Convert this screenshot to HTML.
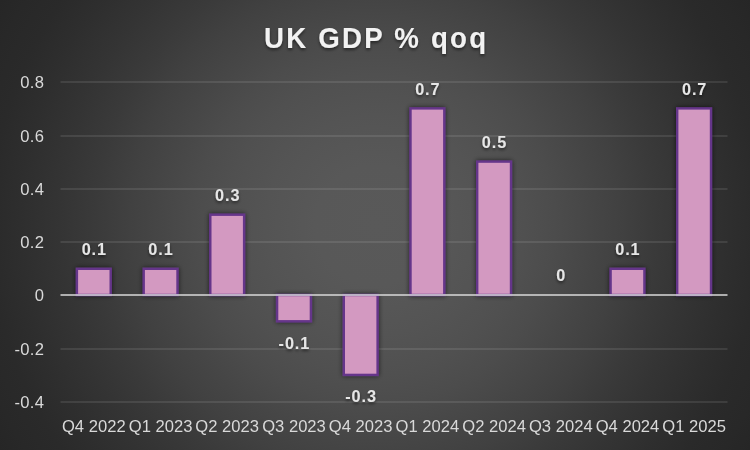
<!DOCTYPE html>
<html lang="en">
<head>
<meta charset="utf-8">
<title>UK GDP % qoq</title>
<style>
  html, body { margin: 0; padding: 0; background: #262626; }
  body { width: 750px; height: 450px; overflow: hidden; }
  svg { display: block; }
  .ax { font-family: "Liberation Sans", sans-serif; font-size: 16.6px; fill: #d9d9d9; }
  .dl { font-family: "Liberation Sans", sans-serif; font-size: 16.3px; font-weight: bold; fill: #e6e6e6; letter-spacing: 0.9px; }
  .title { font-family: "Liberation Sans", sans-serif; font-size: 29px; font-weight: bold; fill: #f2f2f2; letter-spacing: 2.3px; }
</style>
</head>
<body>
<svg width="750" height="450" viewBox="0 0 750 450">
  <defs>
    <radialGradient id="bg" gradientUnits="userSpaceOnUse" cx="375" cy="225" r="437.3">
      <stop offset="0.0000" stop-color="rgb(89,89,89)"/>
      <stop offset="0.1372" stop-color="rgb(88,88,88)"/>
      <stop offset="0.2515" stop-color="rgb(84,84,84)"/>
      <stop offset="0.3430" stop-color="rgb(80,80,80)"/>
      <stop offset="0.4116" stop-color="rgb(76,76,76)"/>
      <stop offset="0.4917" stop-color="rgb(70,70,70)"/>
      <stop offset="0.5603" stop-color="rgb(65,65,65)"/>
      <stop offset="0.6403" stop-color="rgb(58,58,58)"/>
      <stop offset="0.7203" stop-color="rgb(52,52,52)"/>
      <stop offset="0.8118" stop-color="rgb(46,46,46)"/>
      <stop offset="0.8804" stop-color="rgb(42,42,42)"/>
      <stop offset="0.9490" stop-color="rgb(40,40,40)"/>
      <stop offset="1.0000" stop-color="rgb(38,38,38)"/>
    </radialGradient>
    <filter id="sh" x="-40%" y="-40%" width="180%" height="180%">
      <feGaussianBlur in="SourceAlpha" stdDeviation="2.5"/>
      <feOffset dx="0" dy="0" result="b"/>
      <feComponentTransfer><feFuncA type="linear" slope="0.63"/></feComponentTransfer>
      <feMerge><feMergeNode/><feMergeNode in="SourceGraphic"/></feMerge>
    </filter>
    <filter id="tsh" x="-10%" y="-30%" width="120%" height="170%">
      <feGaussianBlur in="SourceAlpha" stdDeviation="1.5"/>
      <feOffset dx="0" dy="1.5"/>
      <feComponentTransfer><feFuncA type="linear" slope="0.5"/></feComponentTransfer>
      <feMerge><feMergeNode/><feMergeNode in="SourceGraphic"/></feMerge>
    </filter>
  </defs>
  <rect x="0" y="0" width="750" height="450" fill="url(#bg)"/>
  <g stroke="#ffffff" stroke-opacity="0.125" stroke-width="1.7">
    <line x1="60.5" y1="82.0" x2="727.5" y2="82.0"/>
    <line x1="60.5" y1="136.0" x2="727.5" y2="136.0"/>
    <line x1="60.5" y1="189.0" x2="727.5" y2="189.0"/>
    <line x1="60.5" y1="242.0" x2="727.5" y2="242.0"/>
    <line x1="60.5" y1="349.0" x2="727.5" y2="349.0"/>
    <line x1="60.5" y1="402.0" x2="727.5" y2="402.0"/>
  </g>
  <g fill="#d399c1" stroke="#65358a" stroke-width="2.4" filter="url(#sh)">
    <rect x="76.9" y="268.8" width="33.8" height="26.2"/>
    <rect x="143.7" y="268.8" width="33.8" height="26.2"/>
    <rect x="210.3" y="214.7" width="33.8" height="80.3"/>
    <rect x="277.1" y="295.0" width="33.8" height="26.3"/>
    <rect x="343.8" y="295.0" width="33.8" height="79.9"/>
    <rect x="410.5" y="108.4" width="33.8" height="186.6"/>
    <rect x="477.2" y="161.6" width="33.8" height="133.4"/>
    <rect x="610.6" y="268.8" width="33.8" height="26.2"/>
    <rect x="677.2" y="108.4" width="33.8" height="186.6"/>
  </g>
  <line x1="60.5" y1="295.0" x2="727.5" y2="295.0" stroke="#d9d9d9" stroke-opacity="0.75" stroke-width="2"/>
  <g class="ax" text-anchor="end" letter-spacing="0.3">
    <text x="44.3" y="87.8">0.8</text>
    <text x="44.3" y="141.8">0.6</text>
    <text x="44.3" y="194.8">0.4</text>
    <text x="44.3" y="247.8">0.2</text>
    <text x="44.3" y="300.8">0</text>
    <text x="44.3" y="354.8">-0.2</text>
    <text x="44.3" y="407.8">-0.4</text>
  </g>
  <g class="ax" text-anchor="middle">
    <text x="93.8" y="431.6">Q4 2022</text>
    <text x="160.6" y="431.6">Q1 2023</text>
    <text x="227.2" y="431.6">Q2 2023</text>
    <text x="294.0" y="431.6">Q3 2023</text>
    <text x="360.7" y="431.6">Q4 2023</text>
    <text x="427.4" y="431.6">Q1 2024</text>
    <text x="494.1" y="431.6">Q2 2024</text>
    <text x="560.8" y="431.6">Q3 2024</text>
    <text x="627.5" y="431.6">Q4 2024</text>
    <text x="694.1" y="431.6">Q1 2025</text>
  </g>
  <g class="dl" text-anchor="middle" filter="url(#tsh)">
    <text x="94.3" y="254.5">0.1</text>
    <text x="161.0" y="254.5">0.1</text>
    <text x="227.7" y="201.1">0.3</text>
    <text x="294.4" y="349.1">-0.1</text>
    <text x="361.1" y="402.4">-0.3</text>
    <text x="427.8" y="94.5">0.7</text>
    <text x="494.5" y="147.8">0.5</text>
    <text x="561.2" y="281.1">0</text>
    <text x="627.9" y="254.5">0.1</text>
    <text x="694.6" y="94.5">0.7</text>
  </g>
  <text class="title" transform="translate(376.2 47.5) scale(0.955 1)" text-anchor="middle" filter="url(#tsh)">UK GDP % qoq</text>
</svg>
</body>
</html>
